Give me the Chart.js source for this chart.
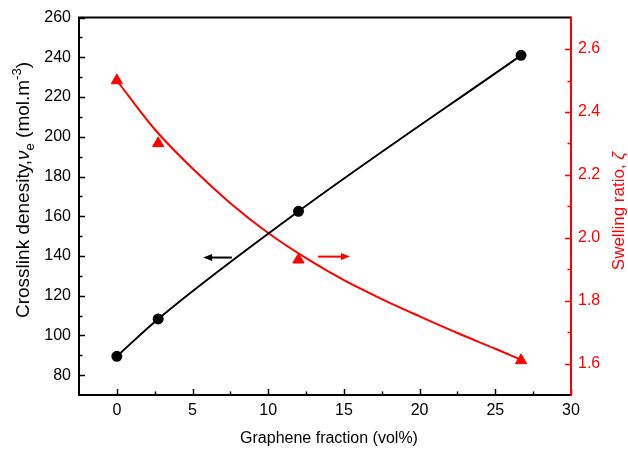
<!DOCTYPE html>
<html>
<head>
<meta charset="utf-8">
<script src="https://cdn.jsdelivr.net/npm/chart.js@4.4.1/dist/chart.umd.min.js"></script>
<style>
  html, body { margin: 0; padding: 0; background: #ffffff; }
  #wrap { width: 628px; height: 450px; position: relative; }
</style>
</head>
<body>
<div id="wrap"><canvas id="c" width="628" height="450"></canvas></div>
<script>
// ---- data ----
const fractionX = [0, 2.73, 12.0, 26.7];          // graphene fraction (vol%)
const crosslink = [89.5, 108.3, 162.5, 241.0];    // crosslink density
const swelling = [2.50, 2.30, 1.93, 1.61];        // swelling ratio (triangles)
const fitX = [0, 2.5, 5, 7.5, 10, 12.5, 15, 17.5, 20, 22.5, 25, 26.7];
const fitY = [2.50, 2.345, 2.22, 2.11, 2.015, 1.935, 1.865, 1.805, 1.75, 1.697, 1.647, 1.612];
const xTicks = [0, 5, 10, 15, 20, 25, 30];
const leftTicks = [80, 100, 120, 140, 160, 180, 200, 220, 240, 260];
const rightTicks = [1.6, 1.8, 2.0, 2.2, 2.4, 2.6];
const blackArrowX = [7.6, 5.7];   // from -> to (points left)
const blackArrowY = 139.2;        // left axis units
const redArrowX = [13.3, 15.4];   // from -> to (points right)
const redArrowY = 1.94;           // right axis units

const RED = '#ff0000';
const FONT = '"Liberation Sans", Arial, sans-serif';

function pts(xs, ys) { return xs.map((x, i) => ({ x: x, y: ys[i] })); }

const framePlugin = {
  id: 'frame',
  afterDraw(chart) {
    const ctx = chart.ctx;
    const a = chart.chartArea;
    const sx = chart.scales.x, sy = chart.scales.y, sr = chart.scales.y1;
    ctx.save();
    ctx.lineWidth = 2;
    ctx.lineCap = 'butt';
    // black frame: top, left, bottom
    ctx.strokeStyle = '#000';
    ctx.beginPath();
    ctx.moveTo(a.right, a.top); ctx.lineTo(a.left, a.top);
    ctx.lineTo(a.left, a.bottom); ctx.lineTo(a.right, a.bottom);
    ctx.stroke();
    // bottom ticks (inward)
    ctx.lineWidth = 1.5;
    ctx.beginPath();
    for (let i = 0; i < xTicks.length; i++) {
      const px = Math.round(sx.getPixelForValue(xTicks[i])) + 0.5;
      ctx.moveTo(px, a.bottom); ctx.lineTo(px, a.bottom - 6);
      if (i < xTicks.length - 1) {
        const pm = Math.round(sx.getPixelForValue((xTicks[i] + xTicks[i + 1]) / 2)) + 0.5;
        ctx.moveTo(pm, a.bottom); ctx.lineTo(pm, a.bottom - 3.5);
      }
    }
    // left ticks (inward)
    for (let i = 0; i < leftTicks.length; i++) {
      const py = Math.round(sy.getPixelForValue(leftTicks[i])) + 0.5;
      ctx.moveTo(a.left, py); ctx.lineTo(a.left + 6, py);
      const pm = Math.round(sy.getPixelForValue(leftTicks[i] + 10)) + 0.5;
      if (leftTicks[i] + 10 < 260) { ctx.moveTo(a.left, pm); ctx.lineTo(a.left + 3.5, pm); }
    }
    ctx.stroke();
    // right axis (red)
    ctx.strokeStyle = RED;
    ctx.lineWidth = 2;
    ctx.beginPath();
    ctx.moveTo(a.right, a.top - 1); ctx.lineTo(a.right, a.bottom + 1);
    ctx.stroke();
    ctx.lineWidth = 1.5;
    ctx.beginPath();
    for (let i = 0; i < rightTicks.length; i++) {
      const py = Math.round(sr.getPixelForValue(rightTicks[i])) + 0.5;
      ctx.moveTo(a.right, py); ctx.lineTo(a.right - 6, py);
      const pm = Math.round(sr.getPixelForValue(rightTicks[i] + 0.1)) + 0.5;
      if (rightTicks[i] + 0.1 < 2.69) { ctx.moveTo(a.right, pm); ctx.lineTo(a.right - 3.5, pm); }
    }
    ctx.stroke();

    // arrows
    function arrow(x1, x2, py, color) {
      const p1 = sx.getPixelForValue(x1), p2 = sx.getPixelForValue(x2);
      const dir = Math.sign(p2 - p1);
      ctx.strokeStyle = color; ctx.fillStyle = color; ctx.lineWidth = 2;
      ctx.beginPath(); ctx.moveTo(p1, py); ctx.lineTo(p2 - dir * 6, py); ctx.stroke();
      ctx.beginPath();
      ctx.moveTo(p2, py); ctx.lineTo(p2 - dir * 9, py - 3.5); ctx.lineTo(p2 - dir * 9, py + 3.5);
      ctx.closePath(); ctx.fill();
    }
    arrow(blackArrowX[0], blackArrowX[1], sy.getPixelForValue(blackArrowY), '#000');
    arrow(redArrowX[0], redArrowX[1], sr.getPixelForValue(redArrowY), RED);

    // axis titles
    ctx.textBaseline = 'alphabetic';
    ctx.fillStyle = '#000';
    ctx.font = '16px ' + FONT;
    ctx.textAlign = 'center';
    ctx.fillText('Graphene fraction (vol%)', 329, 443);

    function rich(parts) {
      let w = 0;
      parts.forEach(p => { ctx.font = p.font; p.w = ctx.measureText(p.t).width; w += p.w; });
      return w;
    }
    // left title
    const big = '19px ' + FONT, bigI = 'italic 19px ' + FONT, small = '13px ' + FONT;
    const lparts = [
      { t: 'Crosslink denesity,', font: big, dy: 0 },
      { t: 'ν', font: bigI, dy: 0 },
      { t: 'e', font: small, dy: 5 },
      { t: ' (mol.m', font: big, dy: 0 },
      { t: '-3', font: small, dy: -8 },
      { t: ')', font: big, dy: 0 }
    ];
    let lw = rich(lparts);
    ctx.save();
    ctx.translate(29, 190);
    ctx.rotate(-Math.PI / 2);
    ctx.textAlign = 'left';
    let cx = -lw / 2;
    lparts.forEach(p => { ctx.font = p.font; ctx.fillText(p.t, cx, p.dy); cx += p.w; });
    ctx.restore();
    // right title
    const rparts = [
      { t: 'Swelling ratio, ', font: '17px ' + FONT, dy: 0 },
      { t: 'ζ', font: 'italic 17px ' + FONT, dy: 0 }
    ];
    let rw = rich(rparts);
    ctx.save();
    ctx.translate(624, 211);
    ctx.rotate(-Math.PI / 2);
    ctx.textAlign = 'left';
    ctx.fillStyle = RED;
    cx = -rw / 2;
    rparts.forEach(p => { ctx.font = p.font; ctx.fillText(p.t, cx, 0); cx += p.w; });
    ctx.restore();
    ctx.restore();
  }
};

new Chart(document.getElementById('c'), {
  type: 'scatter',
  data: {
    datasets: [
      {
        label: 'Swelling fit',
        data: pts(fitX, fitY),
        yAxisID: 'y1',
        showLine: true,
        borderColor: RED,
        borderWidth: 2,
        pointRadius: 0,
        cubicInterpolationMode: 'monotone',
        order: 3
      },
      {
        label: 'Swelling ratio',
        data: pts(fractionX, swelling),
        yAxisID: 'y1',
        showLine: false,
        pointStyle: 'triangle',
        pointRadius: 6.5,
        backgroundColor: RED,
        borderColor: RED,
        borderWidth: 1,
        order: 2
      },
      {
        label: 'Crosslink density',
        data: pts(fractionX, crosslink),
        yAxisID: 'y',
        showLine: true,
        borderColor: '#000',
        backgroundColor: '#000',
        borderWidth: 2,
        pointRadius: 4.5,
        pointStyle: 'circle',
        cubicInterpolationMode: 'monotone',
        order: 1
      }
    ]
  },
  options: {
    responsive: false,
    animation: false,
    events: [],
    layout: { padding: { top: 15, left: 0, right: 0, bottom: 0 } },
    plugins: { legend: { display: false }, tooltip: { enabled: false } },
    scales: {
      x: {
        type: 'linear', min: -2.5, max: 30,
        afterBuildTicks: s => { s.ticks = xTicks.map(v => ({ value: v })); },
        afterFit: s => { s.height = 55; },
        grid: { display: false, drawTicks: false },
        border: { display: false },
        ticks: { color: '#000', font: { family: FONT, size: 16 }, padding: 6, autoSkip: false, maxRotation: 0 }
      },
      y: {
        type: 'linear', position: 'left', min: 70, max: 260,
        afterBuildTicks: s => { s.ticks = leftTicks.map(v => ({ value: v })); },
        afterFit: s => { s.width = 79; },
        grid: { display: false, drawTicks: false },
        border: { display: false },
        ticks: { color: '#000', font: { family: FONT, size: 16 }, padding: 8, autoSkip: false }
      },
      y1: {
        type: 'linear', position: 'right', min: 1.5, max: 2.7,
        afterBuildTicks: s => { s.ticks = rightTicks.map(v => ({ value: v })); },
        afterFit: s => { s.width = 57; },
        grid: { display: false, drawTicks: false },
        border: { display: false },
        ticks: { color: RED, font: { family: FONT, size: 16 }, padding: 7, autoSkip: false,
                 callback: v => Number(v).toFixed(1) }
      }
    }
  },
  plugins: [framePlugin]
});
</script>
</body>
</html>
